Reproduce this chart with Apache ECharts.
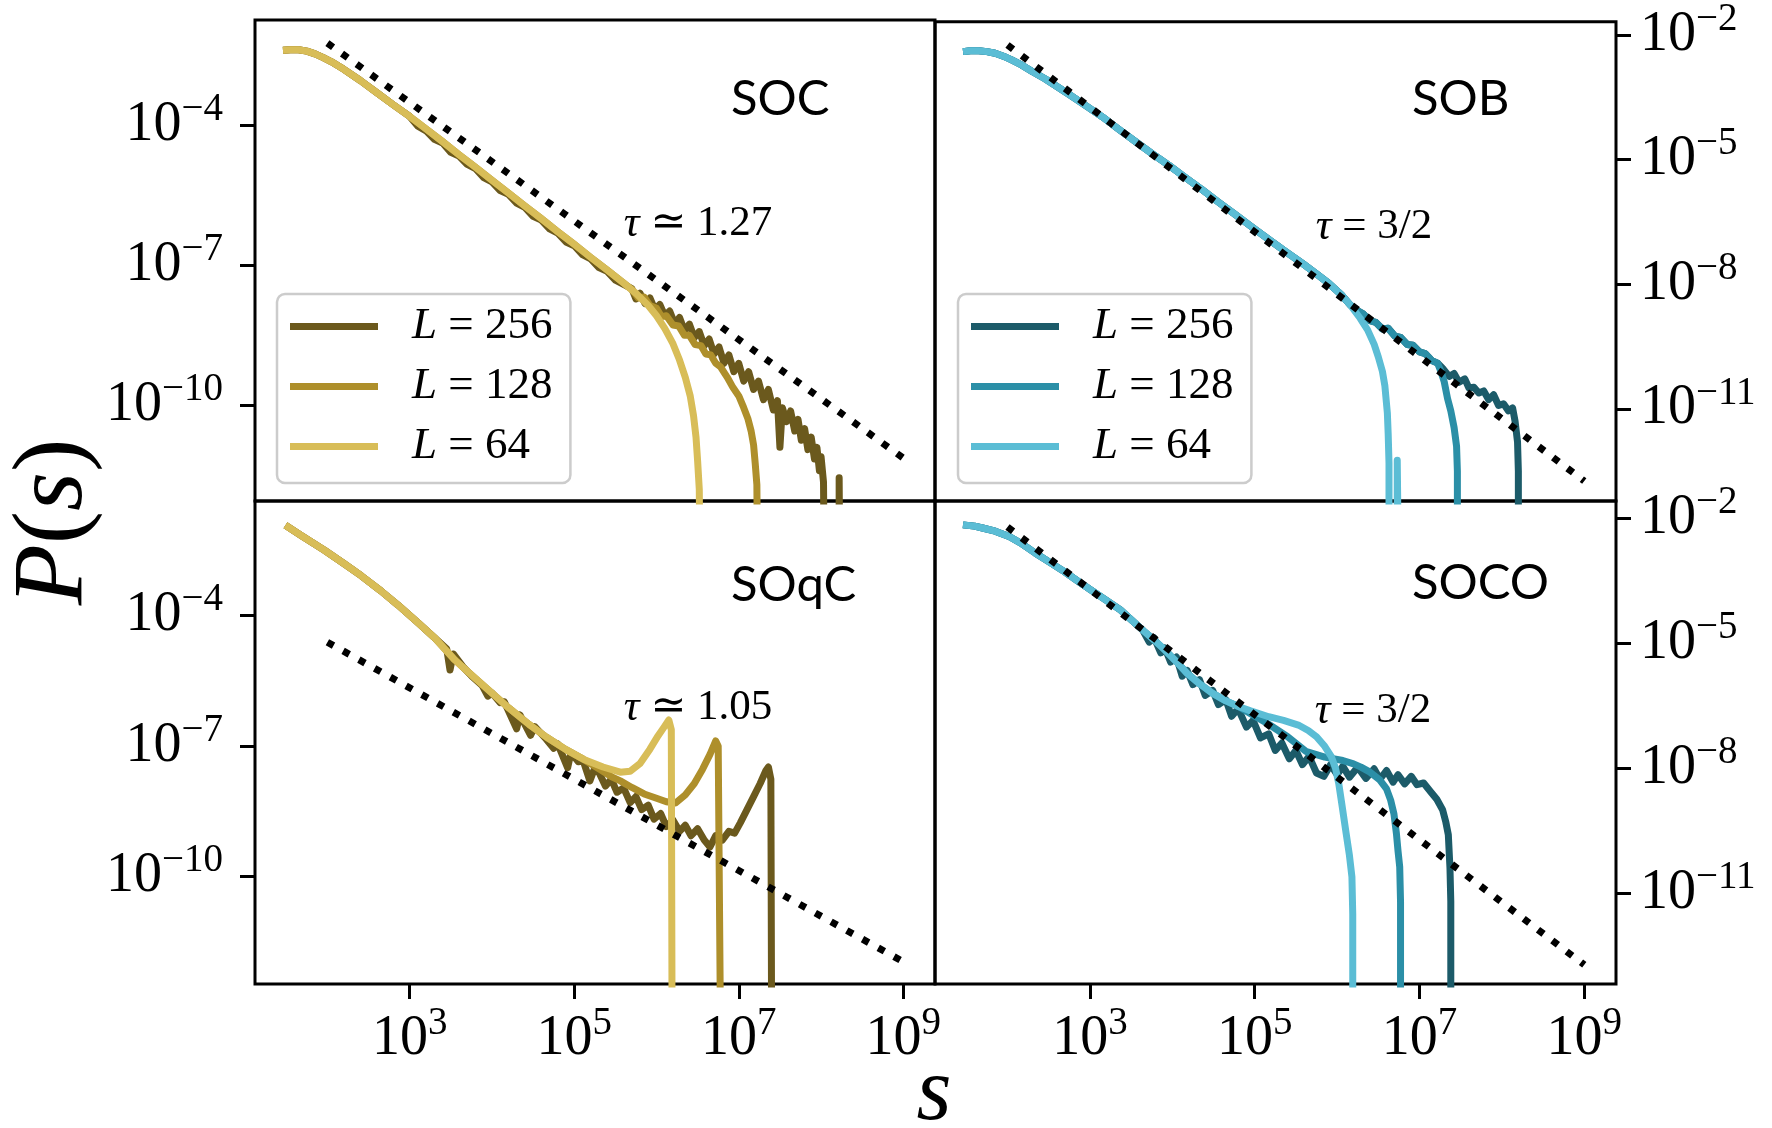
<!DOCTYPE html>
<html>
<head>
<meta charset="utf-8">
<script src="https://cdn.jsdelivr.net/npm/echarts@6.0.0/dist/echarts.min.js"></script>
<style>html,body{margin:0;padding:0;background:#fff}#c{width:1772px;height:1128px}</style>
</head>
<body>
<div id="c"></div>
<script>
// ---------- data: pairs are [log10 s, log10 P(s)] ----------
const sizes = ['256', '128', '64'];
const panelTitles = ['SOC', 'SOB', 'SOqC', 'SOCO'];
const slopeLabels = ['τ ≃ 1.27', 'τ = 3/2', 'τ ≃ 1.05', 'τ = 3/2'];
const xTickExp = [3, 5, 7, 9];
const yTickExpLeft = [-4, -7, -10];
const yTickExpRight = [-2, -5, -8, -11];
const xRangeExp = [1.12, 9.385];
const yRangeExp = [[-12.05, -1.744], [-13.22, -1.681], [-12.47, -1.363], [-13.18, -1.597]];

// SOC
const socStart = [[1.46,-2.39],[1.55,-2.38],[1.65,-2.38],[1.75,-2.41],[1.85,-2.47],[1.95,-2.55],[2.05,-2.64],[2.2,-2.80],[2.4,-3.04],[2.6,-3.30],[2.8,-3.56],[3.0,-3.81]];
const socMid = [[3.2,-4.08],[3.4,-4.35],[3.6,-4.63],[3.8,-4.90],[4.0,-5.18],[4.2,-5.45],[4.4,-5.73],[4.6,-6.00],[4.8,-6.28],[5.0,-6.55],[5.2,-6.83],[5.4,-7.10],[5.6,-7.38]];
const soc256Mid = [[3.1,-4.02],[3.2,-4.12],[3.3,-4.30],[3.4,-4.38],[3.5,-4.58],[3.6,-4.66],[3.7,-4.84],[3.8,-4.93],[3.9,-5.12],[4.0,-5.21],[4.1,-5.40],[4.2,-5.48],[4.3,-5.67],[4.4,-5.76],[4.5,-5.95],[4.6,-6.03],[4.7,-6.22],[4.8,-6.31],[4.9,-6.50],[5.0,-6.58],[5.1,-6.77],[5.2,-6.86],[5.3,-7.05],[5.4,-7.13],[5.5,-7.32],[5.6,-7.41]];
const soc64Tail = [[5.75,-7.60],[5.9,-7.86],[6.0,-8.08],[6.1,-8.35],[6.2,-8.68],[6.28,-9.03],[6.35,-9.40],[6.41,-9.80],[6.45,-10.22],[6.48,-10.68],[6.50,-11.2],[6.52,-11.8],[6.53,-14]];
const soc128Tail = [[5.7,-7.52],[5.78,-7.70],[5.85,-7.68],[5.92,-7.86],[6.0,-7.92],[6.06,-8.10],[6.12,-8.08],[6.2,-8.28],[6.27,-8.30],[6.34,-8.50],[6.4,-8.50],[6.47,-8.70],[6.54,-8.72],[6.6,-8.90],[6.66,-8.92],[6.72,-9.10],[6.78,-9.18],[6.86,-9.40],[6.93,-9.62],[7.0,-9.80],[7.06,-10.05],[7.11,-10.28],[7.15,-10.55],[7.18,-10.85],[7.2,-11.25],[7.22,-11.7],[7.23,-14]];
const soc256Tail = [[5.70,-7.50],[5.75,-7.72],[5.80,-7.60],[5.86,-7.82],[5.92,-7.70],[5.98,-7.95],[6.04,-7.84],[6.10,-8.08],[6.16,-7.98],[6.22,-8.25],[6.28,-8.12],[6.34,-8.40],[6.40,-8.26],[6.46,-8.55],[6.52,-8.42],[6.58,-8.72],[6.64,-8.58],[6.70,-8.90],[6.76,-8.75],[6.82,-9.10],[6.88,-8.92],[6.94,-9.28],[7.00,-9.10],[7.06,-9.48],[7.12,-9.28],[7.18,-9.66],[7.24,-9.48],[7.30,-9.88],[7.36,-9.66],[7.42,-10.10],[7.47,-9.90],[7.50,-10.9],[7.53,-10.05],[7.58,-10.35],[7.63,-10.12],[7.68,-10.55],[7.72,-10.30],[7.76,-10.75],[7.80,-10.50],[7.84,-10.95],[7.88,-10.68],[7.92,-11.15],[7.95,-10.90],[7.98,-11.40],[8.00,-11.10],[8.03,-11.65],[8.04,-14],[8.22,-14],[8.22,-11.55],[8.23,-14]];
const socGuide = [[2,-2.24],[9,-11.13]];

// SOB
const sobHead = [[1.46,-2.40],[1.55,-2.38],[1.65,-2.38],[1.75,-2.40],[1.85,-2.44],[1.95,-2.51],[2.05,-2.60],[2.17,-2.72],[2.3,-2.88],[2.46,-3.06],[2.6,-3.24],[2.74,-3.42],[2.95,-3.70],[3.15,-3.97],[3.35,-4.27],[3.55,-4.56],[3.75,-4.85],[3.96,-5.14],[4.15,-5.42],[4.36,-5.72],[4.55,-6.01],[4.77,-6.33],[4.95,-6.60],[5.17,-6.92],[5.38,-7.22],[5.58,-7.50],[5.75,-7.75],[5.9,-7.98],[6.05,-8.25],[6.16,-8.50]];
const sob64Tail = [[6.28,-8.82],[6.37,-9.10],[6.45,-9.45],[6.5,-9.75],[6.55,-10.10],[6.58,-10.45],[6.61,-11.1],[6.62,-11.6],[6.63,-12.3],[6.63,-14],[6.73,-14],[6.73,-12.24],[6.74,-14]];
const sobBand = [[6.25,-8.64],[6.32,-8.72],[6.4,-8.88],[6.47,-8.92],[6.55,-9.08],[6.62,-9.06],[6.7,-9.25],[6.77,-9.28],[6.85,-9.45],[6.92,-9.47],[7.0,-9.63],[7.07,-9.67],[7.15,-9.84],[7.22,-9.90]];
const sob128Tail = [[7.26,-10.10],[7.3,-10.35],[7.34,-10.75],[7.38,-11.05],[7.42,-11.45],[7.45,-11.9],[7.46,-12.5],[7.46,-14]];
const sob256Tail = [[7.28,-10.02],[7.36,-10.22],[7.42,-10.15],[7.48,-10.36],[7.55,-10.28],[7.6,-10.50],[7.66,-10.48],[7.72,-10.62],[7.78,-10.57],[7.84,-10.78],[7.9,-10.66],[7.96,-10.92],[8.02,-10.88],[8.08,-11.05],[8.13,-10.98],[8.16,-11.3],[8.19,-11.8],[8.2,-12.5],[8.2,-14]];
const sobGuide = [[2,-2.24],[9,-12.74]];

// SOqC
const sqHead = [[1.49,-1.92],[1.7,-2.18],[1.96,-2.49],[2.2,-2.80],[2.41,-3.08],[2.65,-3.43],[2.86,-3.76],[3.1,-4.16],[3.31,-4.52]];
const sqMid = [[3.55,-5.02],[3.76,-5.38],[4.0,-5.78],[4.21,-6.13],[4.45,-6.50],[4.66,-6.79],[4.9,-7.08],[5.11,-7.30]];
const sq64Tail = [[5.35,-7.48],[5.56,-7.60],[5.68,-7.58],[5.8,-7.40],[5.92,-7.07],[6.02,-6.76],[6.1,-6.54],[6.15,-6.40],[6.18,-6.62],[6.19,-14]];
const sq128Tail = [[5.3,-7.52],[5.45,-7.70],[5.56,-7.80],[5.7,-7.95],[5.85,-8.10],[6.0,-8.20],[6.12,-8.28],[6.23,-8.31],[6.35,-8.12],[6.46,-7.86],[6.56,-7.53],[6.65,-7.19],[6.72,-6.88],[6.75,-7.0],[6.78,-14]];
const sq256Rest = [[3.45,-4.76],[3.49,-5.25],[3.53,-4.88],[3.65,-5.18],[3.76,-5.40],[3.88,-5.60],[3.95,-5.85],[4.0,-5.78],[4.1,-6.0],[4.15,-5.98],[4.3,-6.60],[4.34,-6.28],[4.47,-6.75],[4.52,-6.55],[4.66,-6.84],[4.75,-7.05],[4.8,-6.95],[4.92,-7.50],[4.96,-7.15],[5.05,-7.36],[5.11,-7.34],[5.19,-7.80],[5.24,-7.55],[5.3,-7.60],[5.38,-7.92],[5.45,-7.76],[5.52,-8.06],[5.6,-7.96],[5.68,-8.30],[5.75,-8.16],[5.82,-8.46],[5.9,-8.36],[5.97,-8.68],[6.05,-8.55],[6.12,-8.85],[6.2,-8.70],[6.28,-8.96],[6.35,-8.82],[6.42,-9.06],[6.5,-8.90],[6.58,-9.16],[6.65,-9.32],[6.72,-9.06],[6.8,-9.16],[6.88,-8.96],[6.95,-9.0],[7.02,-8.76],[7.1,-8.46],[7.18,-8.16],[7.26,-7.86],[7.33,-7.56],[7.36,-7.48],[7.39,-7.76],[7.40,-14]];
const sqGuide = [[2,-4.61],[9,-11.96]];

// SOCO
const coHead = [[1.46,-2.17],[1.6,-2.20],[1.71,-2.25],[1.85,-2.32],[2.02,-2.45],[2.18,-2.63],[2.34,-2.85],[2.5,-3.05],[2.69,-3.29],[2.85,-3.51],[3.01,-3.73],[3.2,-3.98],[3.37,-4.21],[3.5,-4.44],[3.64,-4.69]];
const coMid = [[3.78,-4.93],[3.91,-5.17],[4.05,-5.45],[4.18,-5.73],[4.33,-5.98],[4.49,-6.21],[4.65,-6.39],[4.81,-6.53]];
const co64Tail = [[4.95,-6.63],[5.17,-6.77],[5.35,-6.86],[5.53,-6.97],[5.65,-7.10],[5.75,-7.25],[5.85,-7.48],[5.93,-7.73],[5.98,-8.0],[6.02,-8.37],[6.06,-8.9],[6.11,-9.57],[6.15,-10.1],[6.18,-10.61],[6.19,-11.5],[6.19,-14]];
const co128Tail = [[4.95,-6.70],[5.17,-6.95],[5.4,-7.25],[5.62,-7.60],[5.85,-7.74],[6.07,-7.82],[6.2,-7.90],[6.29,-7.98],[6.4,-8.10],[6.52,-8.29],[6.6,-8.5],[6.65,-8.77],[6.69,-9.1],[6.72,-9.57],[6.74,-10.0],[6.76,-10.37],[6.77,-11.2],[6.77,-14]];
const co256Rest = [[3.72,-4.98],[3.78,-4.88],[3.86,-5.24],[3.91,-5.12],[3.98,-5.46],[4.05,-5.34],[4.12,-5.80],[4.18,-5.66],[4.25,-6.00],[4.33,-5.88],[4.4,-6.26],[4.49,-6.14],[4.56,-6.48],[4.65,-6.36],[4.72,-6.76],[4.8,-6.58],[4.9,-7.02],[4.98,-6.86],[5.07,-7.28],[5.17,-7.18],[5.25,-7.58],[5.33,-7.40],[5.42,-7.78],[5.5,-7.58],[5.58,-7.92],[5.66,-7.72],[5.75,-8.12],[5.84,-8.20],[5.92,-7.92],[6.0,-8.16],[6.07,-7.96],[6.15,-8.22],[6.25,-7.98],[6.35,-8.25],[6.45,-8.02],[6.52,-8.27],[6.6,-8.06],[6.68,-8.34],[6.74,-8.16],[6.82,-8.38],[6.9,-8.20],[6.97,-8.40],[7.05,-8.36],[7.14,-8.58],[7.21,-8.75],[7.28,-9.0],[7.32,-9.3],[7.35,-9.6],[7.37,-10.4],[7.38,-11.2],[7.38,-14]];
const coGuide = [[2,-2.22],[9,-12.72]];

// ---------- styling ----------
const goldColors = ['#6b591d', '#ae8f2b', '#d8bd58'];
const tealColors = ['#1c5b69', '#2b8fa7', '#5bbdd5'];
const SERIF = '"Liberation Serif", "DejaVu Serif", serif';
const SANS = 'Lato, "Noto Sans", sans-serif';

const pow10 = e => Math.pow(10, e);
const toPts = arr => arr.map(p => [pow10(p[0]), pow10(p[1])]);

const panels = [
  { curves: [socStart.concat(soc256Mid, soc256Tail), socStart.concat(socMid, soc128Tail), socStart.concat(socMid, soc64Tail)], guide: socGuide, colors: goldColors, key: 'SOC' },
  { curves: [sobHead.concat(sobBand, sob256Tail), sobHead.concat(sobBand, sob128Tail), sobHead.concat(sob64Tail)], guide: sobGuide, colors: tealColors, key: 'SOB' },
  { curves: [sqHead.concat(sq256Rest), sqHead.concat(sqMid, sq128Tail), sqHead.concat(sqMid, sq64Tail)], guide: sqGuide, colors: goldColors, key: 'SOqC' },
  { curves: [coHead.concat(co256Rest), coHead.concat(coMid, co128Tail), coHead.concat(coMid, co64Tail)], guide: coGuide, colors: tealColors, key: 'SOCO' }
];

const gridBoxes = [
  { left: 255, top: 20, width: 680, height: 481 },
  { left: 935, top: 20, width: 681, height: 481 },
  { left: 255, top: 501, width: 680, height: 483 },
  { left: 935, top: 501, width: 681, height: 483 }
];

const powRich = {
  b: { fontFamily: SERIF, fontSize: 56, lineHeight: 70, color: '#000' },
  s: { fontFamily: SERIF, fontSize: 39, lineHeight: 39, verticalAlign: 'top', color: '#000' }
};
function fmtPow(v) {
  const e = Math.round(Math.log10(v));
  return '{b|10}{s|' + (e < 0 ? '\u2212' : '') + Math.abs(e) + '}';
}

const grids = gridBoxes.map(g => Object.assign({ show: true, borderColor: '#000', borderWidth: 3, backgroundColor: 'transparent', containLabel: false }, g));

const xAxes = gridBoxes.map((g, i) => {
  const bottom = i >= 2;
  return {
    type: 'log', logBase: 10, gridIndex: i,
    min: pow10(xRangeExp[0]), max: pow10(xRangeExp[1]),
    axisLine: { show: false }, splitLine: { show: false },
    axisTick: { show: bottom, length: 15, lineStyle: { width: 3, color: '#000' }, customValues: xTickExp.map(pow10) },
    axisLabel: { show: bottom, margin: 20, formatter: fmtPow, rich: powRich, customValues: xTickExp.map(pow10) }
  };
});

const yAxes = gridBoxes.map((g, i) => {
  const right = (i % 2) === 1;
  const ticks = right ? yTickExpRight : yTickExpLeft;
  return {
    type: 'log', logBase: 10, gridIndex: i, position: right ? 'right' : 'left',
    min: pow10(yRangeExp[i][0]), max: pow10(yRangeExp[i][1]),
    axisLine: { show: false }, splitLine: { show: false },
    axisTick: { show: true, length: 15, lineStyle: { width: 3, color: '#000' }, customValues: ticks.map(pow10) },
    axisLabel: { show: true, margin: right ? 24 : 32, formatter: fmtPow, rich: powRich, customValues: ticks.map(pow10) }
  };
});

const series = [];
panels.forEach((p, i) => {
  p.curves.forEach((c, k) => {
    series.push({
      name: p.key + ' L=' + sizes[k], type: 'line', xAxisIndex: i, yAxisIndex: i,
      data: toPts(c), showSymbol: false, symbol: 'none', clip: true, animation: false,
      lineStyle: { width: 7, color: p.colors[k], join: 'round', cap: 'butt' },
      itemStyle: { color: p.colors[k] }, z: 2 + k
    });
  });
  series.push({
    name: p.key + ' guide', type: 'line', xAxisIndex: i, yAxisIndex: i,
    data: toPts(p.guide), showSymbol: false, symbol: 'none', animation: false,
    lineStyle: { width: 7, color: '#000', type: [7, 11], cap: 'butt' }, z: 6
  });
});

function legendFor(key, left) {
  return {
    orient: 'vertical', left: left, top: 294, selectedMode: false,
    data: sizes.map(s => key + ' L=' + s),
    icon: 'rect', itemWidth: 88, itemHeight: 7, itemGap: 15,
    padding: [10, 18, 14, 13],
    backgroundColor: 'rgba(255,255,255,0.8)', borderColor: '#cccccc', borderWidth: 2.5, borderRadius: 8,
    formatter: name => '{i|L}{t| = ' + name.split('=')[1] + '}',
    textStyle: {
      color: '#000', lineHeight: 44,
      rich: {
        i: { fontFamily: SERIF, fontStyle: 'italic', fontSize: 45, lineHeight: 44, padding: [0, 0, 0, 29], color: '#000' },
        t: { fontFamily: SERIF, fontSize: 45, lineHeight: 44, color: '#000' }
      }
    }
  };
}

const titlePos = [[731, 99], [1412, 99], [731, 585], [1412, 583]];
const slopePos = [[698, 224], [1374, 227], [698, 708], [1373, 711]];

const graphics = [];
panelTitles.forEach((t, i) => {
  graphics.push({ type: 'text', x: titlePos[i][0], y: titlePos[i][1], z: 10,
    style: { text: t, font: '49px ' + SANS, fill: '#000', align: 'left', verticalAlign: 'middle', textAlign: 'left', textVerticalAlign: 'middle' } });
});
slopeLabels.forEach((t, i) => {
  graphics.push({ type: 'text', x: slopePos[i][0], y: slopePos[i][1], z: 10,
    style: { text: '{i|τ}{n|' + t.slice(1) + '}', align: 'center', verticalAlign: 'middle', textAlign: 'center', textVerticalAlign: 'middle',
      rich: {
        i: { font: 'italic 44px ' + SERIF, fontFamily: SERIF, fontStyle: 'italic', fontSize: 44, fill: '#000', color: '#000' },
        n: { font: '43px ' + SERIF, fontFamily: SERIF, fontSize: 43, fill: '#000', color: '#000' }
      } } });
});
graphics.push({ type: 'text', x: 55, y: 522, rotation: Math.PI / 2, z: 10,
  style: { text: '{i|P}{n|(}{i|s}{n|)}', align: 'center', verticalAlign: 'middle', textAlign: 'center', textVerticalAlign: 'middle',
    rich: {
      i: { font: 'italic 100px ' + SERIF, fontFamily: SERIF, fontStyle: 'italic', fontSize: 100, fill: '#000', color: '#000' },
      n: { font: '100px ' + SERIF, fontFamily: SERIF, fontSize: 100, fill: '#000', color: '#000' }
    } } });
graphics.push({ type: 'text', x: 934, y: 1095, z: 10,
  style: { text: 's', font: 'italic 90px ' + SERIF, fill: '#000', align: 'center', verticalAlign: 'middle', textAlign: 'center', textVerticalAlign: 'middle' } });

const chart = echarts.init(document.getElementById('c'), null, { renderer: 'canvas' });
chart.setOption({
  backgroundColor: '#fff',
  animation: false,
  grid: grids,
  xAxis: xAxes,
  yAxis: yAxes,
  legend: [legendFor('SOC', 277), legendFor('SOB', 958)],
  series: series,
  graphic: graphics
});
</script>
</body>
</html>
